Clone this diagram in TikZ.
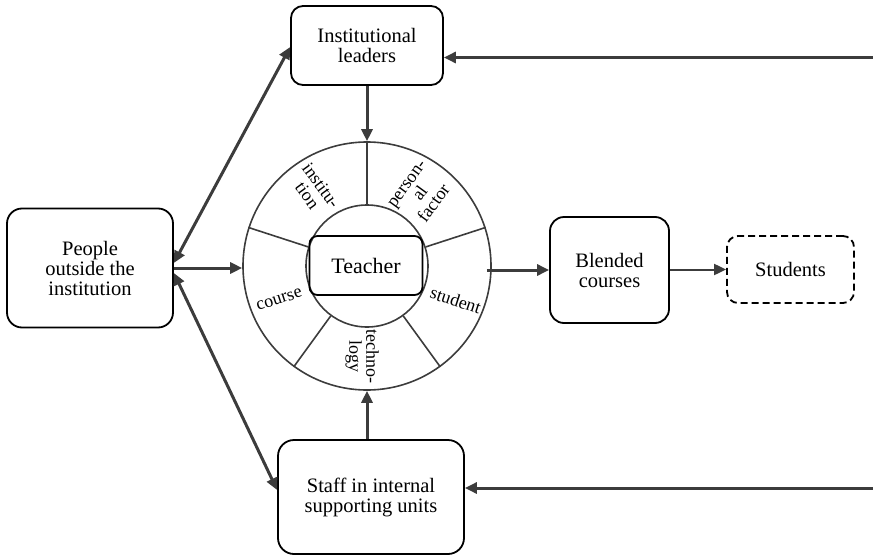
\documentclass[tikz,border=0pt]{standalone}
\usepackage{fontspec}
\setmainfont{Liberation Serif}
\usetikzlibrary{arrows.meta}
\definecolor{linegray}{RGB}{60,60,60}
\definecolor{ringgray}{RGB}{60,60,60}
\begin{document}
\begin{tikzpicture}[x=1pt,y=-1pt,
  box/.style={draw=black, line width=1.8pt, rounded corners=12pt, align=center,
    font=\fontsize{20.5}{20}\selectfont, inner sep=0pt},
  tip/.tip={Triangle[length=12pt,width=11pt]},
  conn/.style={draw=linegray, line width=3pt, -tip},
  both/.style={draw=linegray, line width=3pt, tip-tip},
  ring/.style={draw=ringgray, line width=1.6pt},
  seg/.style={font=\fontsize{18}{17}\selectfont, align=center, inner sep=0pt}]
\useasboundingbox (0,0) rectangle (873,557);

% outer actors
\node[box, minimum width=152pt, minimum height=79pt] (inst) at (367,45.5) {Institutional\\leaders};
\node[box, rounded corners=15pt, minimum width=166pt, minimum height=119pt] (people) at (90,268) {People\\outside the\\institution};
\node[box, rounded corners=16pt, minimum width=186pt, minimum height=114pt] (staff) at (371,497) {Staff in internal\\supporting units};
\node[box, rounded corners=14pt, minimum width=119pt, minimum height=106pt] (blend) at (609.5,270) {Blended\\courses};
\node[box, dashed, dash pattern=on 7pt off 4pt, rounded corners=11pt, minimum width=127pt, minimum height=67pt] (stud) at (790.5,269.5) {Students};

% factor wheel around the teacher
\coordinate (c) at (367,266);
\node[circle, ring, minimum size=248pt, inner sep=0pt] (outer) at (c) {};
\node[circle, ring, minimum size=122pt, inner sep=0pt] (inner) at (c) {};
\foreach \a in {90,18,-54,-126,162}
  \draw[ring] (inner.\a) -- (outer.\a);
\node[box, rounded corners=8pt, minimum width=113pt, minimum height=59pt, font=\fontsize{22}{22}\selectfont] (teacher) at (366,265.5) {Teacher};

\node[seg, rotate=-54] (lInst) at ([shift={(125:92pt)}]c) {institu-\\tion};
\node[seg, rotate=54] (lPers) at ([shift={(53:90pt)}]c) {person-\\al\\factor};
\node[seg, rotate=-18] (lStud) at ([shift={(-21:95pt)}]c) {student};
\node[seg, rotate=-90] (lTech) at ([shift={(-93:91pt)}]c) {techno-\\logy};
\node[seg, rotate=18] (lCour) at ([shift={(-159:94pt)}]c) {course};

% connectors
\coordinate (srcA) at (873,57.5);
\coordinate (srcB) at (873,488);
\coordinate (rimR) at ([xshift=-5pt]outer.east);

\draw[conn] (inst.south) -- (outer.north);
\draw[conn] (outer.south |- staff.north) -- (outer.south);
\draw[conn] (people.east) -- (people.east -| outer.west);
\draw[both] ([yshift=5pt]people.east) -- ([yshift=-1.5pt]inst.west);
\draw[both] ([yshift=-5pt]people.east) -- ([yshift=7pt]staff.west);
\draw[conn] (blend.west -| rimR) -- (blend.west);
\draw[conn, line width=2pt] (stud.west -| blend.east) -- (stud.west);
\draw[conn] (srcA) -- (srcA -| inst.east);
\draw[conn] (srcB) -- (srcB -| staff.east);
\end{tikzpicture}
\end{document}
